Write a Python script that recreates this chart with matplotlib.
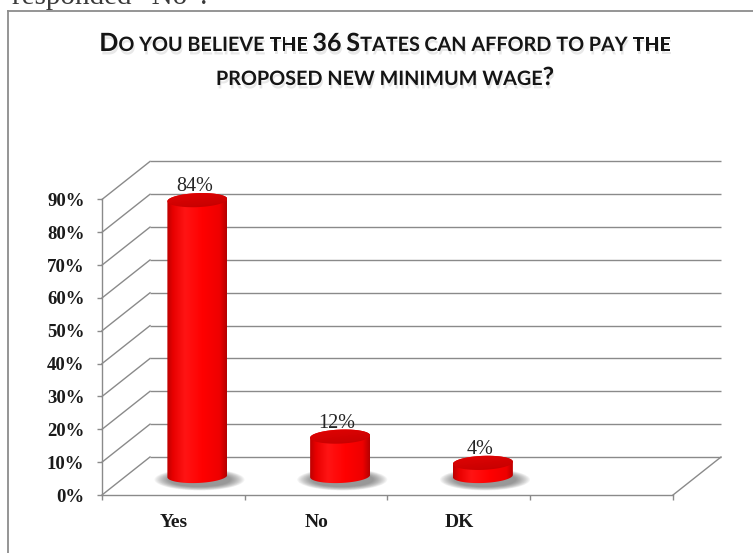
import itertools

import numpy as np
import matplotlib
matplotlib.use("Agg")
import matplotlib.pyplot as plt
from matplotlib.patches import Polygon, Ellipse
from matplotlib.lines import Line2D
from matplotlib.colors import LinearSegmentedColormap
import matplotlib.patheffects as pe

# ---------------------------------------------------------------- data
categories = ["Yes", "No", "DK"]
values = [84, 12, 4]
n_slots = 4                      # the category axis has one empty slot at the end
y_ticks = [0, 10, 20, 30, 40, 50, 60, 70, 80, 90]
y_tick_labels = [f"{t}%" for t in y_ticks]
title_lines = ["Do you believe the 36 States can afford to pay the",
               "proposed new minimum wage?"]
header_text = "responded \u201cNo\u201d."

# ---------------------------------------------------------------- style
W, H, DPI = 753, 553, 100
GRID = "#8a8a8a"
SERIF = ["Liberation Serif", "DejaVu Serif"]
TITLE_FONT = ["Lato", "DejaVu Sans"]

body_cmap = LinearSegmentedColormap.from_list(
    "cyl_body",
    [(0.0, "#bc0000"), (0.10, "#e80000"), (0.30, "#ff1414"),
     (0.60, "#ff0000"), (0.88, "#ee0000"), (1.0, "#b40000")])
top_cmap = LinearSegmentedColormap.from_list(
    "cyl_top", [(0.0, "#e40404"), (1.0, "#c20000")])

fig = plt.figure(figsize=(W / DPI, H / DPI), dpi=DPI)
fig.patch.set_facecolor("white")

# ---------------------------------------------------------------- geometry
X0_PX, X1_PX = 102, 673          # front floor edge
Y0_PX = 495                      # front 0% line, from the top
PX_PER_PCT = 3.284
DEPTH_PX = (48, 38)              # oblique offset of the back wall

slot_w = (X1_PX - X0_PX) / n_slots
DX = DEPTH_PX[0] / slot_w
DY = DEPTH_PX[1] / PX_PER_PCT
xlim = (-0.5, n_slots - 0.5 + DX)
ylim = (0, y_ticks[-1] + DY)

ax = fig.add_axes([X0_PX / W, (H - Y0_PX) / H,
                   (xlim[1] - xlim[0]) * slot_w / W,
                   (ylim[1] - ylim[0]) * PX_PER_PCT / H])
ax.set_facecolor("none")

# ---------------------------------------------------------------- frame & header
fig.add_artist(Line2D([8 / W, 8 / W], [0, 1 - 11 / H], transform=fig.transFigure,
                      color="#8c8c8c", lw=1.3))
fig.add_artist(Line2D([8 / W, 1], [1 - 11 / H, 1 - 11 / H], transform=fig.transFigure,
                      color="#8c8c8c", lw=1.3))
fig.text(12 / W, 1 - 4 / H, header_text, family=SERIF, fontsize=21,
         color="#3a3a3a", va="baseline", ha="left")

# ---------------------------------------------------------------- walls
for t in y_ticks:
    ax.plot([xlim[0] + DX, xlim[1]], [t + DY, t + DY], color=GRID, lw=1.0,
            zorder=1, clip_on=False, solid_capstyle="butt")
    ax.plot([-0.5, -0.5 + DX], [t, t + DY], color=GRID, lw=1.0,
            zorder=1, clip_on=False)
ax.plot([n_slots - 0.5, n_slots - 0.5 + DX], [0, DY], color=GRID, lw=1.0,
        zorder=1, clip_on=False)

# ---------------------------------------------------------------- axes / ticks
for side in ("top", "right"):
    ax.spines[side].set_visible(False)
for side in ("left", "bottom"):
    ax.spines[side].set_color(GRID)
    ax.spines[side].set_linewidth(1.0)
ax.spines["left"].set_bounds(0, y_ticks[-1])
ax.spines["bottom"].set_bounds(-0.5, n_slots - 0.5)

ax.set_yticks(y_ticks, y_tick_labels)
ax.tick_params(axis="y", direction="out", length=3.6, width=1.0, color=GRID,
               pad=9.0, labelsize=13.5, labelcolor="#1a1a1a")
ax.set_xticks(np.arange(n_slots + 1) - 0.5, [""] * (n_slots + 1))
ax.set_xticks(np.arange(len(categories)), categories, minor=True)
ax.tick_params(axis="x", which="major", direction="out", length=3.6, width=1.0,
               color=GRID)
ax.tick_params(axis="x", which="minor", length=0, pad=14, labelsize=14,
               labelcolor="#1a1a1a")
for lbl in ax.get_yticklabels() + ax.get_xticklabels(minor=True):
    lbl.set_fontfamily(SERIF)
    lbl.set_fontweight("bold")

# ---------------------------------------------------------------- cylinders
RAD_X = 30 / slot_w              # half-width of a cylinder
RAD_Y = 7 / PX_PER_PCT           # half-height of its elliptical ends
TILT = 0.35                      # slight tilt of the ellipses
base_y = DY / 2                  # cylinders stand mid-depth on the floor


def ellipse_pts(cx, cy, t):
    return cx + RAD_X * np.cos(t), cy + RAD_Y * np.sin(t) + TILT * np.cos(t)


for i, v in enumerate(values):
    cx = i + DX / 2
    y0, y1 = base_y, base_y + v

    # soft shadow on the floor
    n_sh = 14
    for k in range(n_sh):
        f = 1 - k / n_sh
        ax.add_patch(Ellipse((cx + 0.015, y0 - 1.1),
                             width=2 * RAD_X * (1.0 + 0.5 * f),
                             height=2 * RAD_Y * (1.0 + 0.55 * f),
                             facecolor="#4a4a4a", edgecolor="none",
                             alpha=0.055, zorder=2, clip_on=False))

    # body
    lower = np.linspace(np.pi, 2 * np.pi, 90)
    upper = np.linspace(0, np.pi, 90)
    bx, by = ellipse_pts(cx, y0, lower)
    tx, ty = ellipse_pts(cx, y1, upper)
    body = Polygon(np.column_stack([np.r_[bx, tx], np.r_[by, ty]]), closed=True,
                   facecolor="none", edgecolor="none", transform=ax.transData)
    ax.add_patch(body)
    grad = np.linspace(0, 1, 256)[None, :]
    im = ax.imshow(grad, cmap=body_cmap, aspect="auto", zorder=3,
                   interpolation="bilinear",
                   extent=(cx - RAD_X, cx + RAD_X, y0 - RAD_Y - TILT, y1 + RAD_Y + TILT))
    im.set_clip_path(body)

    # top face
    full = np.linspace(0, 2 * np.pi, 180)
    ex, ey = ellipse_pts(cx, y1, full)
    top = Polygon(np.column_stack([ex, ey]), closed=True, facecolor="none",
                  edgecolor="none", transform=ax.transData)
    ax.add_patch(top)
    tgrad = np.linspace(0, 1, 64)[:, None] * 0.7 + np.linspace(0, 1, 64)[None, :] * 0.3
    im2 = ax.imshow(tgrad[::-1], cmap=top_cmap, aspect="auto", zorder=4,
                    interpolation="bilinear", origin="lower",
                    extent=(cx - RAD_X, cx + RAD_X, y1 - RAD_Y - TILT, y1 + RAD_Y + TILT))
    im2.set_clip_path(top)

    # value label
    ax.annotate(f"{v}%", xy=(cx, y1 + RAD_Y), xytext=(-3, 2),
                textcoords="offset pixels", ha="center", va="baseline",
                family=SERIF, fontsize=14.5, color="#262626", zorder=6,
                annotation_clip=False)

ax.set_xlim(xlim)
ax.set_ylim(ylim)

# ---------------------------------------------------------------- small-caps title
renderer = fig.canvas.get_renderer()
TITLE_CENTER = 385
BASELINES = [51, 85]
TARGET_W = 572
BIG, SMALL = 17.0, 13.4


def runs_of(line):
    """Split a line into words, each a list of (text, is_big) runs."""
    words = []
    for word in line.split(" "):
        runs = []
        for big, grp in itertools.groupby(word, key=lambda c: not c.islower()):
            runs.append(("".join(grp).upper(), big))
        words.append(runs)
    return words


def measure(s, size):
    t = fig.text(0, 0, s, fontsize=size, fontweight="bold", family=TITLE_FONT)
    w = t.get_window_extent(renderer).width
    t.remove()
    return w


def line_width(words, big, small):
    space = measure("H H", small) - measure("HH", small)
    w = 0
    for j, runs in enumerate(words):
        for s, b in runs:
            w += measure(s, big if b else small)
        if j < len(words) - 1:
            w += space
    return w, space


scale = TARGET_W / line_width(runs_of(title_lines[0]), BIG, SMALL)[0]
big_sz, small_sz = BIG * scale, SMALL * scale
shadow = [pe.withSimplePatchShadow(offset=(0.8, -2.5), shadow_rgbFace="#808080",
                                   alpha=0.18)]

for line, base in zip(title_lines, BASELINES):
    words = runs_of(line)
    total, space = line_width(words, big_sz, small_sz)
    x = TITLE_CENTER - total / 2
    for j, runs in enumerate(words):
        for s, b in runs:
            size = big_sz if b else small_sz
            fig.text(x / W, 1 - base / H, s, fontsize=size, fontweight="bold",
                     family=TITLE_FONT, color="#151515", va="baseline", ha="left",
                     path_effects=shadow)
            x += measure(s, size)
        x += space

fig.savefig("out.png", dpi=DPI, facecolor="white")
